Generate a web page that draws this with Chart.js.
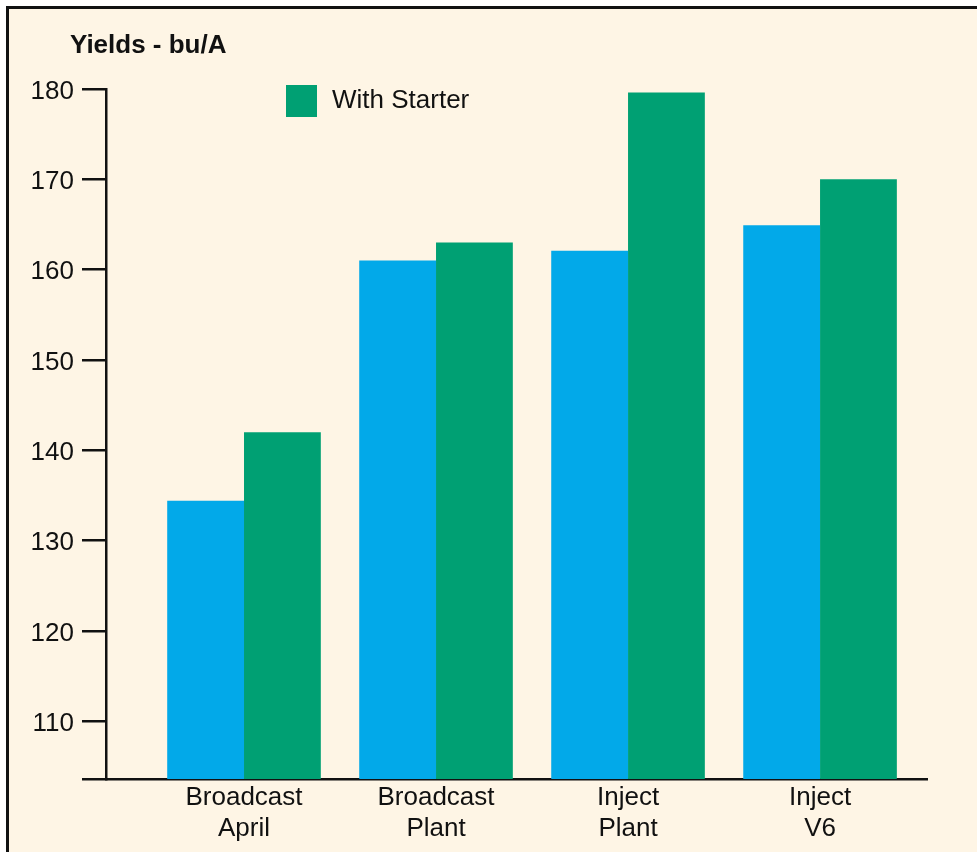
<!DOCTYPE html>
<html>
<head>
<meta charset="utf-8">
<title>Yields - bu/A</title>
<script src="https://cdn.jsdelivr.net/npm/chart.js@4.4.0/dist/chart.umd.min.js"></script>
<style>
  html, body { margin: 0; padding: 0; background: #fff; overflow: hidden; }
  body { width: 977px; height: 852px; position: relative; }
  .frame { position: absolute; left: 6px; top: 6px; right: -10px; bottom: -10px; border: 3px solid #111; background: #fef5e5; }
  #chart { position: absolute; left: 0; top: 0; }
</style>
</head>
<body>
<div class="frame"></div>
<canvas id="chart" width="977" height="852"></canvas>
<script>
  // categories (two-line labels) and yields in bu/A
  const categories = [['Broadcast', 'April'], ['Broadcast', 'Plant'], ['Inject', 'Plant'], ['Inject', 'V6']];
  const withoutStarter = [134.4, 161.0, 162.1, 164.9];
  const withStarter    = [142.0, 163.0, 179.6, 170.0];
  const yTicks = [110, 120, 130, 140, 150, 160, 170, 180];
  const yMin = 103.6;
  const yMax = 180;
  const axisTitle = 'Yields - bu/A';

  const FONT = '"Liberation Sans", Arial, Helvetica, sans-serif';
  Chart.defaults.font.family = FONT;
  Chart.defaults.color = '#111';

  // axis title top-left, and the key (green series only) inside the plot
  const headerAndKey = {
    id: 'headerAndKey',
    afterDraw(chart) {
      const ds = chart.data.datasets[1];
      const ctx = chart.ctx;
      ctx.save();
      ctx.fillStyle = '#111';
      ctx.textBaseline = 'middle';
      ctx.font = 'bold 26px ' + FONT;
      ctx.fillText(axisTitle, 70, 45.5);

      ctx.fillStyle = ds.backgroundColor;
      ctx.fillRect(286, 85, 31, 32);
      ctx.fillStyle = '#111';
      ctx.font = '26px ' + FONT;
      ctx.fillText(ds.label, 332, 100.5);
      ctx.restore();
    }
  };

  new Chart(document.getElementById('chart'), {
    type: 'bar',
    data: {
      datasets: [
        {
          label: 'Without Starter',
          data: withoutStarter.map((v, i) => ({ x: i, y: v })),
          backgroundColor: '#02a9e9',
          borderWidth: 0
        },
        {
          label: 'With Starter',
          data: withStarter.map((v, i) => ({ x: i, y: v })),
          backgroundColor: '#00a073',
          borderWidth: 0
        }
      ]
    },
    options: {
      responsive: false,
      animation: false,
      categoryPercentage: 0.8,
      barPercentage: 1,
      layout: { padding: { left: 0, right: 50, top: 89, bottom: 0 } },
      scales: {
        x: {
          type: 'linear',
          min: -0.71875,
          max: 3.557,
          offset: false,
          afterBuildTicks: s => { s.ticks = categories.map((c, i) => ({ value: i })); },
          afterFit: s => { s.height = 73; },
          grid: { display: false, drawTicks: false, offset: false },
          border: { display: true, color: '#111', width: 2.5 },
          ticks: {
            padding: 3,
            maxRotation: 0,
            autoSkip: false,
            color: '#111',
            font: { size: 26, lineHeight: 1.2 },
            callback: v => categories[v] || ''
          }
        },
        y: {
          min: yMin,
          max: yMax,
          afterBuildTicks: s => { s.ticks = [yMin, ...yTicks].map(v => ({ value: v })); },
          afterFit: s => { s.width = 106; },
          grid: { drawOnChartArea: false, drawTicks: true, tickLength: 24, color: '#111', lineWidth: 2.5 },
          border: { display: true, color: '#111', width: 2.5 },
          ticks: {
            padding: 8,
            labelOffset: 2.5,
            autoSkip: false,
            color: '#111',
            font: { size: 26 },
            callback: v => yTicks.includes(v) ? String(v) : ''
          }
        }
      },
      plugins: {
        legend: { display: false },
        tooltip: { enabled: false },
        title: { display: false }
      }
    },
    plugins: [headerAndKey]
  });
</script>
</body>
</html>
